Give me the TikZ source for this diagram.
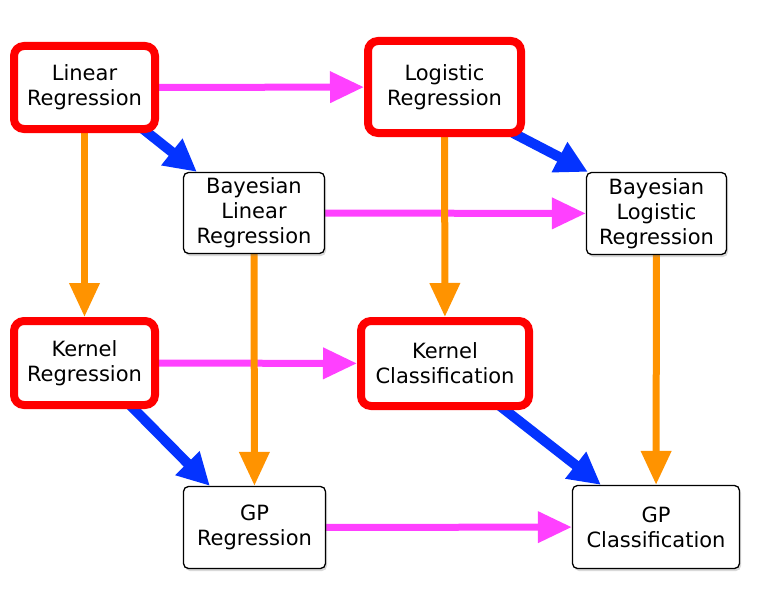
\documentclass[tikz,border=0pt]{standalone}
\usepackage{fontspec}
\setmainfont{DejaVu Sans}
\usetikzlibrary{arrows.meta,shadows,backgrounds,calc}
\definecolor{boxred}{RGB}{255,0,0}
\definecolor{pinkA}{RGB}{255,64,255}
\definecolor{orangeA}{RGB}{255,147,0}
\definecolor{blueA}{RGB}{4,51,255}
\begin{document}
\begin{tikzpicture}[x=1pt,y=-1pt,
  box/.style={draw=black, line width=1.3pt, rounded corners=5pt, fill=white,
    align=center, font=\fontsize{21}{25}\selectfont, inner sep=0pt,
    drop shadow={opacity=0.3, shadow xshift=1.5pt, shadow yshift=-2.5pt}},
  redbox/.style={box, draw=boxred, line width=8pt, rounded corners=10pt},
  pinkE/.style={draw=pinkA, line width=7pt, -{Triangle[length=34pt,width=30pt]}},
  orangeE/.style={draw=orangeA, line width=7pt, -{Triangle[length=34pt,width=29pt]}},
  blueE/.style={draw=blueA, line width=10pt, -{Triangle[length=32pt,width=32pt]}}
]
\useasboundingbox (0,0) rectangle (774,610);
\node[redbox, minimum width=141pt, minimum height=83pt] (LR) at (84.5,87.5) {Linear\\Regression};
\node[redbox, minimum width=153pt, minimum height=92pt] (LogR) at (444.5,87) {Logistic\\Regression};
\node[box, minimum width=141pt, minimum height=81pt] (BLR) at (254,213) {Bayesian\\Linear\\Regression};
\node[box, minimum width=140pt, minimum height=82pt] (BLogR) at (656.5,213.5) {Bayesian\\Logistic\\Regression};
\node[redbox, minimum width=141pt, minimum height=84pt] (KR) at (84.5,363) {Kernel\\Regression};
\node[redbox, minimum width=168pt, minimum height=85pt] (KC) at (445,363.5) {Kernel\\Classification};
\node[box, minimum width=142pt, minimum height=82pt] (GPR) at (254.5,527.5) {GP\\Regression};
\node[box, minimum width=167pt, minimum height=83pt] (GPC) at (656,527) {GP\\Classification};
\begin{scope}[on background layer]
\draw[pinkE] (LR) -- (LogR);
\draw[pinkE] (BLR) -- (BLogR);
\draw[pinkE] (KR) -- (KC);
\draw[pinkE] (GPR) -- (GPC);
\draw[orangeE] (LR) -- (KR);
\draw[orangeE] (LogR) -- (KC);
\draw[orangeE] (BLR) -- (GPR);
\draw[orangeE] (BLogR) -- (GPC);
\draw[blueE] ($(LR.south east)+(-16,-4)$) -- ($(BLR.north west)+(14,0)$);
\draw[blueE] ($(LogR.south east)+(-12,-4)$) -- ($(BLogR.north west)+(2,0)$);
\draw[blueE] ($(KR.south east)+(-29,-4)$) -- ($(GPR.north west)+(27,0)$);
\draw[blueE] ($(KC.south east)+(-33,-4)$) -- ($(GPC.north west)+(29,0)$);
\end{scope}
\end{tikzpicture}
\end{document}
